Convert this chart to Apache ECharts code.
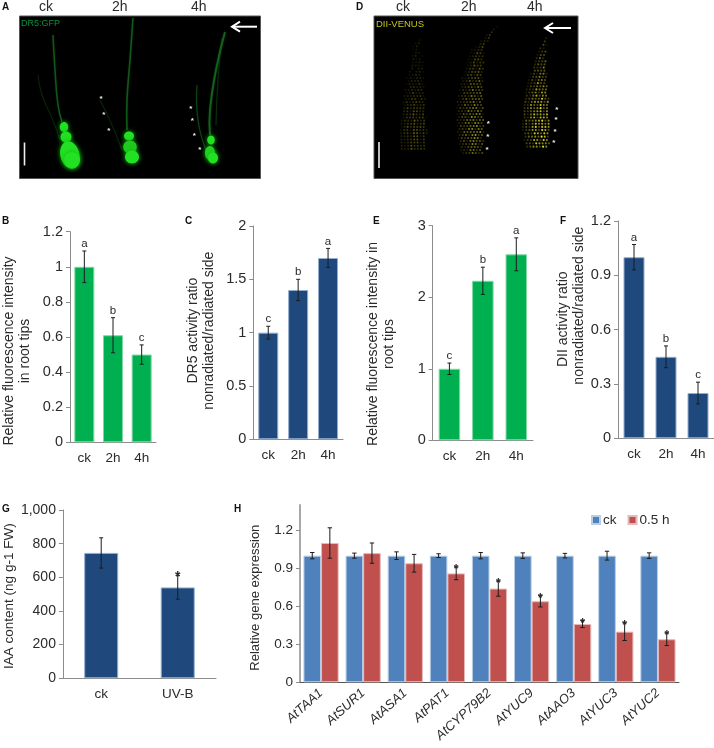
<!DOCTYPE html>
<html><head><meta charset="utf-8">
<style>html,body{margin:0;padding:0;background:#fff}#c{width:714px;height:748px}</style>
<script src="https://cdn.jsdelivr.net/npm/echarts@6/dist/echarts.min.js"></script>
</head><body><div id="c"></div>
<script>
const timeCategories = ['ck','2h','4h'];
const treatCategories = ['ck','UV-B'];
const geneCategories = ['AtTAA1','AtSUR1','AtASA1','AtPAT1','AtCYP79B2','AtYUC9','AtAAO3','AtYUC3','AtYUC2'];

const valuesB = [1, 0.61, 0.5];      const errorsB = [0.09, 0.1, 0.055];   const lettersB = ['a','b','c'];
const valuesC = [1, 1.4, 1.7];       const errorsC = [0.06, 0.1, 0.09];    const lettersC = ['c','b','a'];
const valuesE = [1, 2.23, 2.6];      const errorsE = [0.08, 0.19, 0.23];   const lettersE = ['c','b','a'];
const valuesF = [1, 0.45, 0.25];     const errorsF = [0.07, 0.06, 0.06];   const lettersF = ['a','b','c'];
const valuesG = [745, 540];          const errorsG = [90, 70];             const lettersG = ['','*'];
const valuesCk = [1,1,1,1,1,1,1,1,1];
const errorsCk = [0.025,0.02,0.03,0.015,0.025,0.022,0.018,0.035,0.022];
const valuesUv = [1.1,1.02,0.94,0.86,0.74,0.64,0.46,0.4,0.34];
const errorsUv = [0.12,0.08,0.07,0.05,0.06,0.045,0.028,0.07,0.05];
const starsUv = ['','','','*','*','*','*','*','*'];

const FONT = '"Liberation Sans", Arial, sans-serif';
const TXT = '#2b2b2b', AXIS = '#8c8c8c', ERR = '#1c1c1c';
const GREEN = '#00B050', GREEN_B = '#7fd8a4', NAVY = '#1F497D', NAVY_B = '#93aecd';

const grids = [], xAxes = [], yAxes = [], series = [];

function errorSeries(name, gi, vals, errs, marks, offset, cap, markFont) {
  series.push({
    name, type: 'custom', xAxisIndex: gi, yAxisIndex: gi, z: 5, silent: true,
    encode: { x: 0, y: [1, 2] },
    data: vals.map((v, i) => [i, v + errs[i], v - errs[i]]),
    renderItem(params, api) {
      const i = api.value(0);
      const dx = api.size([1, 0])[0] * offset;
      const t = api.coord([i, api.value(1)]), b = api.coord([i, api.value(2)]);
      const x = t[0] + dx;
      const st = { stroke: ERR, lineWidth: 1 };
      const ch = [
        { type: 'line', shape: { x1: x, y1: t[1], x2: x, y2: b[1] }, style: st },
        { type: 'line', shape: { x1: x - cap, y1: t[1], x2: x + cap, y2: t[1] }, style: st },
        { type: 'line', shape: { x1: x - cap, y1: b[1], x2: x + cap, y2: b[1] }, style: st }
      ];
      const m = marks[params.dataIndex];
      if (m) {
        const star = m === '*';
        ch.push({ type: 'text', style: {
          text: m, x, y: t[1] + (star ? 9 : -1), align: 'center', verticalAlign: 'bottom',
          font: (star ? 'bold ' : '') + markFont + 'px ' + FONT, fill: TXT } });
      }
      return { type: 'group', children: ch };
    }
  });
}

function panel(o) {
  const gi = grids.length;
  grids.push({ left: o.l, top: o.t, width: o.r - o.l, height: o.b - o.t, containLabel: false });
  xAxes.push({ type: 'category', gridIndex: gi, data: o.cats,
    axisLine: { lineStyle: { color: o.xLine || AXIS, width: 1 } }, axisTick: { show: false },
    axisLabel: Object.assign({ color: TXT, fontFamily: FONT, fontSize: 13.5, margin: 9, interval: 0 }, o.xLabel || {}) });
  yAxes.push({ type: 'value', gridIndex: gi, min: 0, max: o.max, interval: o.iv,
    splitLine: { show: false },
    axisLine: { show: true, lineStyle: { color: o.yLine || AXIS, width: o.yLw || 1 } },
    axisTick: { show: true, length: 4, lineStyle: { color: AXIS }, customValues: o.ticks },
    axisLabel: { color: TXT, fontFamily: FONT, fontSize: o.tickFont || 14.5, margin: 7, customValues: o.ticks },
    name: o.name, nameLocation: 'middle', nameGap: o.gap,
    nameTextStyle: { color: TXT, fontFamily: FONT, fontSize: o.nameFont || 14, lineHeight: 16,
      padding: o.shift >= 0 ? [0, o.shift * 2, 0, 0] : [0, 0, 0, -o.shift * 2] }
  });
  return gi;
}

function simple(o) {
  const gi = panel(o);
  series.push({ name: o.id, type: 'bar', xAxisIndex: gi, yAxisIndex: gi, data: o.vals, barWidth: o.bw,
    itemStyle: { color: o.color, borderColor: o.border, borderWidth: 1 } });
  errorSeries(o.id + ' error', gi, o.vals, o.errs, o.marks, 0, o.cap || 2, o.markFont || 11.5);
}

simple({ id:'B', l:61, r:156, t:231.7, b:442.3, cats:timeCategories, vals:valuesB, errs:errorsB, marks:lettersB,
  max:1.2, iv:0.2, bw:20, color:GREEN, border:GREEN_B, name:'Relative fluorescence intensity\nin root tips', gap:37, shift:14 });
simple({ id:'C', l:253.3, r:343, t:226, b:439.3, cats:timeCategories, vals:valuesC, errs:errorsC, marks:lettersC,
  max:2, iv:0.5, bw:20, color:NAVY, border:NAVY_B, name:'DR5 activity ratio\nnonradiated/radiated side', gap:36, shift:-2 });
simple({ id:'E', l:432.7, r:533, t:225.7, b:440.3, cats:timeCategories, vals:valuesE, errs:errorsE, marks:lettersE,
  max:3, iv:1, bw:21.5, color:GREEN, border:GREEN_B, name:'Relative fluorescence intensity in\nroot tips', gap:36, shift:11 });
simple({ id:'F', l:618, r:714, t:221, b:438.3, cats:timeCategories, vals:valuesF, errs:errorsF, marks:lettersF,
  max:1.2, iv:0.3, bw:21, color:NAVY, border:NAVY_B, name:'DII activity ratio       \nnonradiated/radiated side', gap:27, shift:-24 });
simple({ id:'G', l:61, r:216, t:510, b:678.3, cats:treatCategories, vals:valuesG, errs:errorsG, marks:lettersG,
  max:1000, iv:200, bw:34, color:NAVY, border:NAVY_B, name:'IAA content (ng g-1 FW)', gap:42, shift:2, markFont:14, nameFont:13.5, tickFont:14 });

const hi = panel({ l:300, r:679, t:505, b:682.3, cats:geneCategories,
  max:1.4, iv:0.3, ticks:[0,0.3,0.6,0.9,1.2], yLine:'#a8a8a8', yLw:2, xLine:'#555',
  name:'Relative gene expression', gap:37, shift:4, nameFont:13, tickFont:13.5,
  xLabel:{ rotate:42, fontStyle:'italic', fontSize:13, margin:9 } });
series.push({ name:'ck', type:'bar', xAxisIndex:hi, yAxisIndex:hi, data:valuesCk, barWidth:17.6, barGap:0,
  itemStyle:{ color:'#4F81BD', borderColor:'#b9cde5', borderWidth:1 } });
series.push({ name:'0.5 h', type:'bar', xAxisIndex:hi, yAxisIndex:hi, data:valuesUv, barWidth:17.6, barGap:0,
  itemStyle:{ color:'#C0504D', borderColor:'#e6b9b8', borderWidth:1 } });
errorSeries('ck error', hi, valuesCk, errorsCk, geneCategories.map(() => ''), -0.209, 2.2, 12);
errorSeries('0.5 h error', hi, valuesUv, errorsUv, starsUv, 0.209, 2.2, 12);

/* ---- picture panels A and D, panel letters ---- */
const g = [];
const txt = (text, x, y, size, fill, extra) => g.push({ type:'text', x, y, silent:true, z:20,
  style: Object.assign({ text, font: (extra && extra.bold ? 'bold ' : '') + size + 'px ' + FONT, fill, align:'left', verticalAlign:'middle' }, extra && extra.style) });

function rect(x1, y1, x2, y2) {
  g.push({ type:'rect', shape:{ x:x1, y:y1, width:x2-x1, height:y2-y1 }, style:{ fill:'#000', stroke:'#555', lineWidth:1 }, z:1, silent:true });
}
function arrow(x1, x2, y) {
  g.push({ type:'polyline', z:6, silent:true, shape:{ points:[[x1,y],[x2,y]] }, style:{ stroke:'#fff', lineWidth:2, fill:null } });
  g.push({ type:'polyline', z:6, silent:true, shape:{ points:[[x2+8,y-5],[x2,y],[x2+8,y+5]] }, style:{ stroke:'#fff', lineWidth:2, fill:null } });
}
function scale(x, y1, y2) {
  g.push({ type:'line', z:6, silent:true, shape:{ x1:x, y1, x2:x, y2 }, style:{ stroke:'#eee', lineWidth:1.6 } });
}
function stars(list) {
  list.forEach(p => g.push({ type:'text', z:6, silent:true, x:p[0], y:p[1],
    style:{ text:'*', font:'bold 8px ' + FONT, fill:'#eee', align:'center', verticalAlign:'middle' } }));
}
function blob(cx, cy, rx, ry, rot, fill) {
  g.push({ type:'ellipse', z:4, silent:true, x:cx, y:cy, rotation:rot||0,
    shape:{ cx:0, cy:0, rx, ry },
    style:{ fill: fill || '#22e022', shadowColor:'#11b811', shadowBlur:5 } });
}
function strand(points, color, w) {
  g.push({ type:'polyline', z:3, silent:true, shape:{ points, smooth:0.5 },
    style:{ stroke:color, lineWidth:w, fill:null, shadowColor:color, shadowBlur:2 } });
}
function cells(rows, rightBias, gain) {
  // rows: [y, centre x, half width, brightness]
  for (let k = 0; k < rows.length - 1; k++) {
    const a = rows[k], b = rows[k+1];
    const n = Math.max(1, Math.round((b[0]-a[0]) / 3.1));
    for (let r = 0; r < n; r++) {
      const f = r / n;
      const y = a[0] + (b[0]-a[0]) * f, cx = a[1] + (b[1]-a[1]) * f, hw = a[2] + (b[2]-a[2]) * f, br = a[3] + (b[3]-a[3]) * f;
      const line = Math.round(y * 7);
      for (let c = -hw + (line % 2 ? 1.6 : 0); c <= hw; c += 3.2) {
        const u = c / hw;
        const tex = 0.62 + 0.38 * Math.cos(line * 1.7 + c * 2.3) * Math.cos(line * 0.6 - c * 1.1);
        const edge = 1 - 0.55 * u * u;
        const side = 1 + rightBias * u;
        const alpha = Math.min(1, br * tex * edge * side * gain);
        if (alpha < 0.05) continue;
        g.push({ type:'circle', z:3, silent:true, shape:{ cx:cx + c, cy:y, r:1.05 },
          style:{ fill:'rgba(232,224,30,' + alpha.toFixed(2) + ')' } });
      }
    }
  }
}

rect(19.5, 16, 260.5, 178.5);
rect(374, 16, 578, 178.5);

// Panel A roots
strand([[53,35],[55,70],[58,105],[62,122]], 'rgba(30,140,40,0.55)', 1.5);
strand([[38,75],[42,95],[52,118],[60,140]], 'rgba(20,90,30,0.35)', 1.2);
strand([[133,18],[130,60],[127,100],[127,130]], 'rgba(30,140,40,0.55)', 1.6);
strand([[100,100],[112,125],[122,150]], 'rgba(20,90,30,0.35)', 1.2);
strand([[225,32],[216,70],[210,110],[210,135]], 'rgba(30,140,40,0.6)', 2);
strand([[222,38],[218,80],[216,125]], 'rgba(20,100,30,0.4)', 1.2);
strand([[197,85],[198,120],[206,150]], 'rgba(30,130,40,0.45)', 1.2);
blob(64,127,4.2,5); blob(66,137,5.5,5.5); blob(70,155,9.5,14,0.25); blob(72,160,8,8);
blob(129,136,5,4.5); blob(130,147,6.8,6.5,0,'#1dca1d'); blob(132,157,7,6.5);
blob(211,140,3.8,4.5); blob(210,153,5,7,0,'#1fd41f'); blob(213,158,5,5.5);

// Panel D roots (texture of cells)
cells([[40,417,4,0.14],[75,416,8,0.22],[105,414,11,0.42],[130,414,13,0.5],[152,414,12,0.45]], 0.15, 0.9);
cells([[24,500,1,0.1],[35,488,3,0.25],[50,478,6,0.35],[75,473,10,0.48],[105,470,13,0.65],[135,471,13,0.8],[156,472,10,0.55]], 0.45, 0.95);
cells([[38,545,2,0.22],[55,541,5,0.45],[80,538,9,0.6],[105,536,13,0.85],[130,537,14,1],[150,537,11,0.85]], 0.5, 1.1);

arrow(257, 232, 26.7);
arrow(571, 545, 28);
scale(24.5, 142.5, 165.5);
scale(379, 142, 168);
stars([[101,99],[103.7,115],[108.7,130.5],[190.7,109],[192.3,121],[194.3,136],[199.7,150]]);
stars([[488.3,124],[487.7,137],[487,150],[556.7,110],[556,120],[555,132],[553.7,143]]);

txt('DR5:GFP', 21, 24, 9, '#0e8f42');
txt('DII-VENUS', 376, 24, 9.5, '#c4c41e');
[['ck',39],['2h',112],['4h',191],['ck',396],['2h',461],['4h',527]].forEach(p => txt(p[0], p[1], 7, 14, TXT));
[['A',2,7],['D',356,7],['B',2,221],['C',185,221],['E',373,221],['F',560,221],['G',2,509],['H',234,509]]
  .forEach(p => txt(p[0], p[1], p[2], 10, '#111', { bold:true }));

const chart = echarts.init(document.getElementById('c'), null, { renderer:'canvas' });
chart.setOption({
  animation:false, backgroundColor:'#fff',
  grid:grids, xAxis:xAxes, yAxis:yAxes, series,
  legend:{ data:['ck','0.5 h'], left:586, top:508, icon:'rect', itemWidth:8, itemHeight:8, itemGap:11,
    selectedMode:false, textStyle:{ color:TXT, fontFamily:FONT, fontSize:13.5, padding:[0,0,0,-2] } },
  graphic:{ elements:g }
});
</script></body></html>
